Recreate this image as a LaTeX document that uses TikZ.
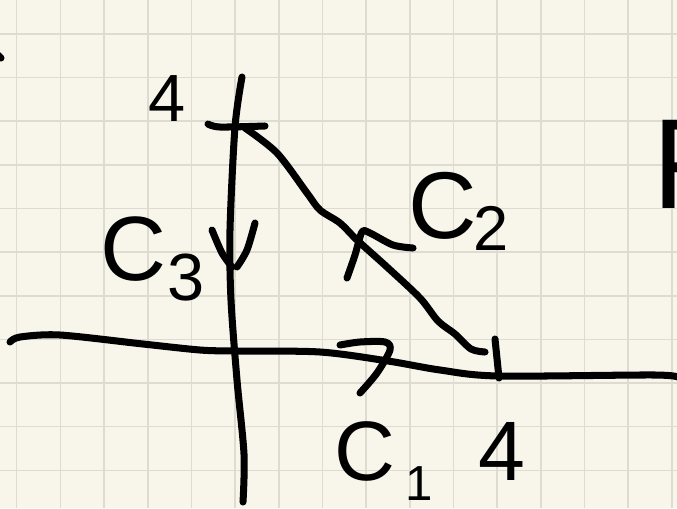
\documentclass[tikz,border=0pt]{standalone}
\usepackage{fontspec}
\setmainfont{Liberation Sans}
\definecolor{paper}{HTML}{F8F6EA}
\definecolor{gridgray}{HTML}{DEDBD0}
\tikzset{
  ink/.style={
    draw=black,
    line width=4pt,
    line cap=round,
    line join=round
  },
  gridline/.style={draw=gridgray, line width=0.9pt},
  handtext/.style={
    inner sep=0pt,
    anchor=base west,
    text=black,
    font=\fontsize{#1}{#1}\selectfont
  },
  handtext/.default=48
}

\begin{document}
\begin{tikzpicture}[x=0.02cm, y=-0.02cm]
  \useasboundingbox (0,0) rectangle (677,508);
  \fill[paper] (0,0) rectangle (677,508);
  \clip (0,0) rectangle (677,508);

  % squared paper
  \foreach \gx in {0,...,15}
    \draw[gridline] ({16.7+43.67*\gx},0) -- ++(0,508);
  \foreach \gy in {0,...,10}
    \draw[gridline] (0,{34+43.63*\gy}) -- ++(677,0);

  % axes
  \draw[ink] plot[smooth] coordinates {(10,342) (20,337) (60,335) (143,344) (200,350) (235,351)
    (320,352) (388,361) (440,370) (498,376) (655,375) (680,378)};
  \draw[ink] plot[smooth] coordinates {(242,77) (235,127) (230,230) (231,300) (237,380) (244,454) (243,502)};

  % ticks
  \draw[ink] plot[smooth] coordinates {(208,124) (220,127) (265,126)};
  \draw[ink] (495,339) -- (499,378);

  % hypotenuse
  \draw[ink] plot[smooth] coordinates {(245,128) (277,153) (307,193) (320,210) (340,223) (357,240)
    (387,267) (420,298) (438,321) (455,334) (471,349) (485,352)};

  % direction marks
  \draw[ink] plot[smooth] coordinates {(347,278) (355,255) (362,232) (370,233) (393,245) (413,248)};
  \draw[ink] plot[smooth] coordinates {(340,345) (360,342) (385,342) (390,350) (377,373) (360,393)};
  \draw[ink] plot[smooth] coordinates {(212,230) (222,253) (232,267)};
  \draw[ink] plot[smooth] coordinates {(255,223) (247,250) (237,267)};
  \draw[ink] (-2,55) -- (1,58);

  % labels
  \node[handtext=38] (topfour) at (148,121) {4};
  \node[handtext=52] (cthree) at (100,280) {C};
  \node[handtext=38] (cthreesub) at (167,300) {3};
  \node[handtext=54] (ctwo) at (408,238) {C};
  \node[handtext=36] (ctwosub) at (473,250) {2};
  \node[handtext=48] (cone) at (334,480) {C};
  \node[handtext=28] (conesub) at (405,500) {1};
  \node[handtext=48] (rightfour) at (478,480) {4};
  \node[handtext=73] (field) at (652,208) {F};
\end{tikzpicture}
\end{document}
